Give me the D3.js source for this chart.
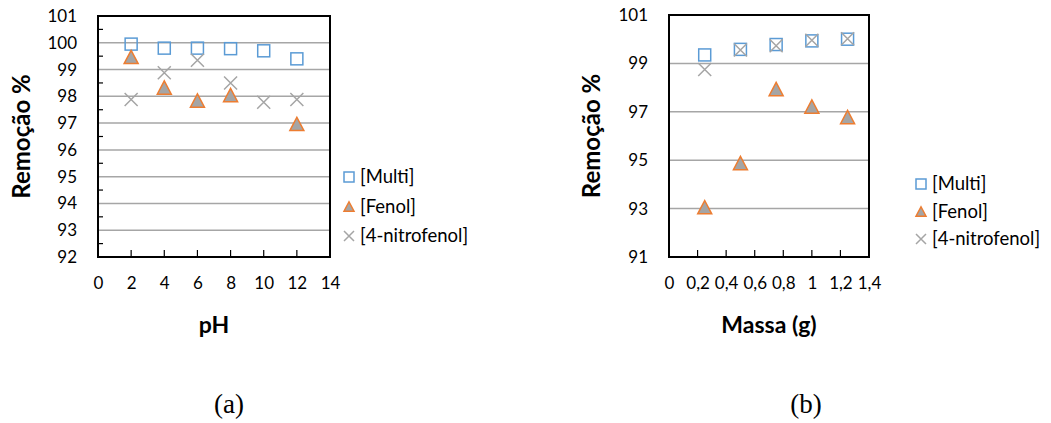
<!DOCTYPE html>
<html>
<head>
<meta charset="utf-8">
<script src="https://cdn.jsdelivr.net/npm/d3@7/dist/d3.min.js"></script>
<style>
  body { margin: 0; background: #fff; }
  svg text { font-family: Lato, "Noto Sans", sans-serif; fill: #000; }
  .caption { font-family: "Liberation Serif", "DejaVu Serif", serif !important; }
</style>
</head>
<body>
<div id="vis"></div>
<script>
// ---- data (a): pH ----
var phValues = [2, 4, 6, 8, 10, 12];
var phMulti = [99.95, 99.8, 99.8, 99.78, 99.7, 99.4];
var phFenol = [99.47, 98.33, 97.84, 98.05, null, 96.97];
var phNitro = [97.88, 98.88, 99.35, 98.5, 97.78, 97.88];
var phTicks = [0, 2, 4, 6, 8, 10, 12, 14];

// ---- data (b): massa ----
var massValues = [0.25, 0.5, 0.75, 1.0, 1.25];
var massMulti = [99.35, 99.58, 99.78, 99.93, 100.0];
var massFenol = [93.06, 94.88, 97.94, 97.22, 96.78];
var massNitro = [98.75, 99.55, 99.73, 99.96, 100.02];
var massTicks = [0, 0.2, 0.4, 0.6, 0.8, 1.0, 1.2, 1.4];

var seriesNames = ["[Multi]", "[Fenol]", "[4-nitrofenol]"];

var svg = d3.select("#vis")
  .append("svg")
  .attr("width", 1051)
  .attr("height", 423);

var blue = "#5B9BD5", orange = "#ED7D31", grey = "#A5A5A5";

function drawMarker(g, kind, x, y, s) {
  if (kind == 0) {
    g.append("rect")
      .attr("x", x - s / 2).attr("y", y - s / 2)
      .attr("width", s).attr("height", s)
      .attr("fill", "none").attr("stroke", blue).attr("stroke-width", 1.5);
  } else if (kind == 1) {
    var h = s * 0.95;
    g.append("path")
      .attr("d", "M" + x + "," + (y - h / 2) + "L" + (x + s / 2) + "," + (y + h / 2) + "L" + (x - s / 2) + "," + (y + h / 2) + "Z")
      .attr("fill", grey).attr("stroke", orange).attr("stroke-width", 1.5);
  } else {
    var r = s / 2;
    g.append("path")
      .attr("d", "M" + (x - r) + "," + (y - r) + "L" + (x + r) + "," + (y + r) + "M" + (x + r) + "," + (y - r) + "L" + (x - r) + "," + (y + r))
      .attr("fill", "none").attr("stroke", grey).attr("stroke-width", 1.5);
  }
}

function drawChart(opt) {
  var x = d3.scaleLinear().domain(opt.xDomain).range([opt.left, opt.right]);
  var y = d3.scaleLinear().domain(opt.yDomain).range([opt.bottom, opt.top]);
  var g = svg.append("g");

  // gridlines
  g.selectAll("line.grid")
    .data(opt.yGrid)
    .enter()
    .append("line")
    .attr("x1", opt.left).attr("x2", opt.right)
    .attr("y1", function (d) { return y(d); })
    .attr("y2", function (d) { return y(d); })
    .attr("stroke", "#A6A6A6").attr("stroke-width", 1.5);

  // y labels
  g.append("g")
    .attr("transform", "translate(" + opt.left + ",0)")
    .call(d3.axisLeft(y).tickValues(opt.yTicks).tickSize(0).tickPadding(opt.left - opt.yLabelX).tickFormat(d3.format("d")))
    .call(function (a) { a.select(".domain").remove(); })
    .selectAll("text")
    .style("font-size", "17px");

  // y minor ticks inside
  if (opt.yMinor) {
    g.selectAll("line.minor")
      .data(opt.yMinor)
      .enter()
      .append("line")
      .attr("x1", opt.left).attr("x2", opt.left + 5)
      .attr("y1", function (d) { return y(d); })
      .attr("y2", function (d) { return y(d); })
      .attr("stroke", "#000").attr("stroke-width", 1.2);
  }

  // x axis: inward ticks + labels
  var xa = g.append("g")
    .attr("transform", "translate(0," + opt.bottom + ")")
    .call(d3.axisBottom(x).tickValues(opt.xTicks).tickSize(0).tickPadding(20).tickFormat(opt.xFormat));
  xa.select(".domain").remove();
  xa.selectAll("text").style("font-size", "17px");

  g.selectAll("line.xtick")
    .data(opt.xTicks.slice(1, -1))
    .enter()
    .append("line")
    .attr("x1", function (d) { return x(d); })
    .attr("x2", function (d) { return x(d); })
    .attr("y1", opt.bottom).attr("y2", opt.bottom - 7)
    .attr("stroke", "#000").attr("stroke-width", 1.2);

  // frame
  g.append("rect")
    .attr("x", opt.left).attr("y", opt.top)
    .attr("width", opt.right - opt.left).attr("height", opt.bottom - opt.top)
    .attr("fill", "none").attr("stroke", "#000").attr("stroke-width", 2);

  // markers
  var pts = g.append("g");
  opt.series.forEach(function (vals, k) {
    vals.forEach(function (v, i) {
      if (v == null) return;
      drawMarker(pts, k, x(opt.xValues[i]), y(v), opt.markerSize[k]);
    });
  });

  // titles
  g.append("text")
    .attr("transform", "translate(" + opt.yTitleX + "," + ((opt.top + opt.bottom) / 2) + ") rotate(-90)")
    .attr("text-anchor", "middle")
    .attr("dy", "0.35em")
    .style("font-size", "24px").style("font-weight", "bold")
    .text("Remoção %");
  g.append("text")
    .attr("x", (opt.left + opt.right) / 2)
    .attr("y", opt.xTitleY)
    .attr("text-anchor", "middle")
    .style("font-size", "23px").style("font-weight", "bold")
    .text(opt.xTitle);

  // legend
  var lg = g.append("g");
  seriesNames.forEach(function (name, k) {
    var ly = opt.legendY + k * opt.legendStep;
    drawMarker(lg, k, opt.legendX, ly, 10);
    lg.append("text")
      .attr("x", opt.legendX + 11).attr("y", ly)
      .attr("dy", "0.35em")
      .style("font-size", "18.5px")
      .text(name);
  });

  // caption
  svg.append("text")
    .attr("class", "caption")
    .attr("x", opt.captionX).attr("y", 413)
    .attr("text-anchor", "middle")
    .style("font-size", "27px")
    .text(opt.caption);
}

drawChart({
  left: 98, right: 330, top: 16, bottom: 257,
  xDomain: [0, 14], yDomain: [92, 101],
  xTicks: phTicks, xValues: phValues,
  xFormat: d3.format("d"),
  yTicks: d3.range(92, 102), yGrid: d3.range(93, 101),
  yMinor: d3.range(92.5, 101, 1),
  yLabelX: 77, yTitleX: 22,
  xTitle: "pH", xTitleY: 333,
  series: [phMulti, phFenol, phNitro],
  markerSize: [12, 14, 13],
  legendX: 349, legendY: 177, legendStep: 29.5,
  caption: "(a)", captionX: 229
});

drawChart({
  left: 669, right: 869, top: 15, bottom: 257,
  xDomain: [0, 1.4], yDomain: [91, 101],
  xTicks: massTicks, xValues: massValues,
  xFormat: function (d) { return d3.format("~g")(d).replace(".", ","); },
  yTicks: d3.range(91, 102, 2), yGrid: d3.range(93, 100, 2),
  yMinor: null,
  yLabelX: 648, yTitleX: 592,
  xTitle: "Massa (g)", xTitleY: 333,
  series: [massMulti, massFenol, massNitro],
  markerSize: [12, 14, 13],
  legendX: 921, legendY: 184, legendStep: 27.5,
  caption: "(b)", captionX: 806
});
</script>
</body>
</html>
